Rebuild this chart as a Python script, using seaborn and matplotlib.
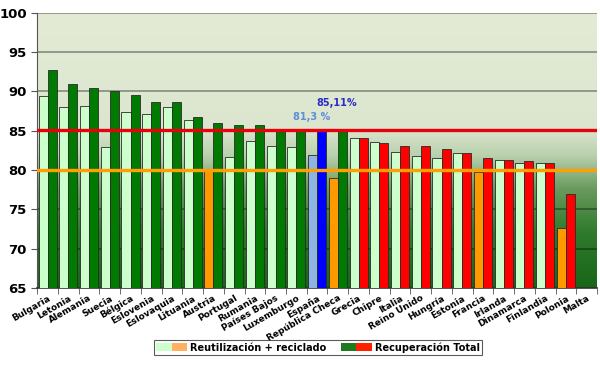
import numpy as np
import pandas as pd
import matplotlib
matplotlib.use('Agg')
import matplotlib.pyplot as plt
import seaborn as sns
from matplotlib.colors import LinearSegmentedColormap
from matplotlib.patches import Patch
from matplotlib.legend_handler import HandlerTuple

# Data (%)
paises = ['Bulgaria', 'Letonia', 'Alemania', 'Suecia', 'Bélgica', 'Eslovenia', 'Eslovaquia',
          'Lituania', 'Austria', 'Portugal', 'Rumania', 'Países Bajos', 'Luxemburgo', 'España',
          'República Checa', 'Grecia', 'Chipre', 'Italia', 'Reino Unido', 'Hungría', 'Estonia',
          'Francia', 'Irlanda', 'Dinamarca', 'Finlandia', 'Polonia', 'Malta']
reutilizacion = [89.4, 88.0, 88.1, 83.0, 87.4, 87.1, 88.0, 86.4, 79.9, 81.7, 83.7, 83.1, 83.0, 81.9,
                 79.0, 84.1, 83.6, 82.3, 81.8, 81.5, 82.2, 79.7, 81.25, 80.9, 80.9, 72.7, np.nan]
recuperacion = [92.7, 90.9, 90.4, 90.0, 89.5, 88.7, 88.6, 86.7, 86.0, 85.7, 85.7, 85.2, 85.1, 85.11,
                85.0, 84.1, 83.4, 83.1, 83.1, 82.7, 82.2, 81.5, 81.3, 81.2, 80.9, 77.0, np.nan]
objetivo_reut = 80.0
objetivo_rec = 85.11
serie_reut = 'Reutilización + reciclado'
serie_rec = 'Recuperación Total'

df = pd.DataFrame({
    'pais': paises * 2,
    'serie': [serie_reut] * len(paises) + [serie_rec] * len(paises),
    'valor': reutilizacion + recuperacion,
})

plt.rcParams['font.family'] = ['DejaVu Sans']
fig = plt.figure(figsize=(6, 3.67), dpi=100)
ax = fig.add_axes([0.062, 0.215, 0.933, 0.75])

# background gradient like Excel fill
cmap = LinearSegmentedColormap.from_list('fondo', [
    (0.0, '#186618'), (0.2, '#2f7a2c'), (0.36, '#6a9a5e'), (0.48, '#b9d1ad'),
    (0.58, '#dce6cf'), (1.0, '#e3ebd5')])
grad = np.linspace(0, 1, 256).reshape(-1, 1)
ax.imshow(grad, aspect='auto', cmap=cmap, origin='lower', extent=[0, 1, 0, 1],
          transform=ax.transAxes, zorder=0)

sns.barplot(data=df, x='pais', y='valor', hue='serie', order=paises,
            hue_order=[serie_reut, serie_rec], width=0.87, ax=ax,
            edgecolor='#2a2a2a', linewidth=0.6, legend=False, zorder=3)

# recolor bars: below target -> orange/red, España in blue
for k, cont in enumerate(ax.containers):
    for bar in cont:
        h = bar.get_height()
        if np.isnan(h):
            continue
        i = int(round(bar.get_x() + bar.get_width() / 2))
        if k == 0:
            c = '#FF9900' if h < objetivo_reut else '#CCFFCC'
            if paises[i] == 'España':
                c = '#8DB4E2'
        else:
            c = '#FF0000' if h < 85 else '#007A00'
            if paises[i] == 'España':
                c = '#0000FF'
        bar.set_facecolor(c)

ax.axhline(objetivo_rec, color='#E8000B', lw=2.4, zorder=4)
ax.axhline(objetivo_reut, color='#FFA000', lw=2.4, zorder=4)

ax.text(13.96, 88.5, '85,11%', color='#2B2BC8', fontsize=7, fontweight='bold',
        ha='center', va='center', zorder=5)
ax.text(12.76, 86.75, '81,3 %', color='#5B8FD8', fontsize=7, fontweight='bold',
        ha='center', va='center', zorder=5)

ax.set_ylim(65, 100)
ax.set_xlim(-0.5, len(paises) - 0.5)
ax.set_yticks(range(65, 101, 5))
ax.yaxis.grid(True, color='black', alpha=0.4, lw=1.2)
for line in ax.get_ygridlines():
    line.set_zorder(1)
ax.set_xlabel('')
ax.set_ylabel('')
for s in ['top', 'right']:
    ax.spines[s].set_visible(False)
ax.spines['left'].set_color('#555555')
ax.spines['bottom'].set_color('#333333')
ax.spines['bottom'].set_linewidth(1.2)

ax.set_xticks(range(len(paises)))
ax.set_xticklabels(paises, rotation=30, ha='right', rotation_mode='anchor',
                   fontsize=6.5, fontweight='bold')
ax.set_xticks(np.arange(-0.5, len(paises), 1), minor=True)
ax.tick_params(axis='x', which='major', length=0, pad=4)
ax.tick_params(axis='x', which='minor', length=4, color='#555555')
ax.tick_params(axis='y', length=4, color='#555555', labelsize=9.5)
for t in ax.get_yticklabels():
    t.set_fontweight('bold')

handles = [(Patch(facecolor='#CCFFCC'), Patch(facecolor='#FFB060')),
           (Patch(facecolor='#1E7A1E'), Patch(facecolor='#FF2000'))]
leg = fig.legend(handles, [serie_reut, serie_rec], ncol=2, loc='center',
                 bbox_to_anchor=(0.53, 0.053), frameon=True, fancybox=False,
                 edgecolor='#333333', handler_map={tuple: HandlerTuple(ndivide=None, pad=0)},
                 prop={'size': 7, 'weight': 'bold'}, handlelength=3.2, handleheight=0.9,
                 borderpad=0.25, columnspacing=1.5, handletextpad=0.3)
leg.get_frame().set_linewidth(0.8)

fig.savefig('out.png', dpi=100)
